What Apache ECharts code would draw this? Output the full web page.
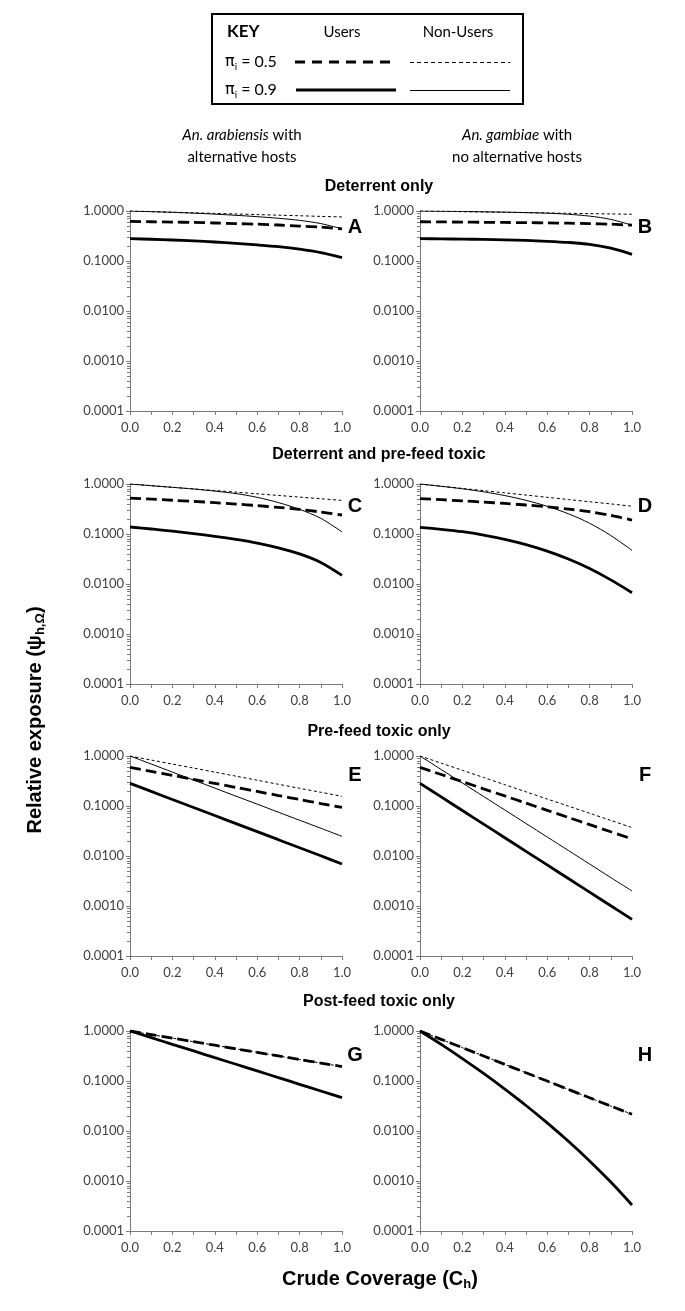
<!DOCTYPE html>
<html><head><meta charset="utf-8">
<script src="https://cdn.jsdelivr.net/npm/echarts@6/dist/echarts.min.js"></script>
<style>html,body{margin:0;padding:0;background:#fff}#c{width:685px;height:1311px}</style>
</head><body><div id="c"></div>
<script>
// ---------- data ----------
const coverage = [0, 0.1, 0.2, 0.3, 0.4, 0.5, 0.6, 0.7, 0.8, 0.9, 1.0];
const xTickValues = [0, 0.2, 0.4, 0.6, 0.8, 1.0];
const xTickLabels = ['0.0', '0.2', '0.4', '0.6', '0.8', '1.0'];
const yTickValues = [0.0001, 0.001, 0.01, 0.1, 1];
const yTickLabels = ['0.0001', '0.0010', '0.0100', '0.1000', '1.0000'];
const yMinorTickValues = [0.0002,0.0003,0.0004,0.0005,0.0006,0.0007,0.0008,0.0009,
  0.002,0.003,0.004,0.005,0.006,0.007,0.008,0.009,
  0.02,0.03,0.04,0.05,0.06,0.07,0.08,0.09,
  0.2,0.3,0.4,0.5,0.6,0.7,0.8,0.9];

const panelLetters = ['A','B','C','D','E','F','G','H'];
const rowTitles = ['Deterrent only', 'Deterrent and pre-feed toxic', 'Pre-feed toxic only', 'Post-feed toxic only'];

// Panel A
const A_users05    = [0.62, 0.61, 0.60, 0.59, 0.575, 0.56, 0.545, 0.525, 0.50, 0.475, 0.44];
const A_nonusers05 = [1.0, 0.973, 0.946, 0.921, 0.896, 0.872, 0.848, 0.825, 0.803, 0.781, 0.76];
const A_users09    = [0.28, 0.272, 0.263, 0.253, 0.24, 0.226, 0.21, 0.193, 0.172, 0.147, 0.117];
const A_nonusers09 = [1.0, 0.97, 0.94, 0.905, 0.865, 0.82, 0.77, 0.715, 0.65, 0.56, 0.44];
// Panel B
const B_users05    = [0.61, 0.605, 0.60, 0.595, 0.59, 0.585, 0.578, 0.57, 0.56, 0.545, 0.52];
const B_nonusers05 = [1.0, 0.985, 0.97, 0.955, 0.94, 0.927, 0.913, 0.899, 0.886, 0.873, 0.86];
const B_users09    = [0.28, 0.277, 0.274, 0.27, 0.265, 0.258, 0.248, 0.235, 0.215, 0.18, 0.136];
const B_nonusers09 = [1.0, 0.99, 0.98, 0.965, 0.95, 0.93, 0.905, 0.86, 0.79, 0.68, 0.52];
// Panel C
const C_users05    = [0.52, 0.497, 0.473, 0.449, 0.423, 0.397, 0.37, 0.34, 0.31, 0.275, 0.24];
const C_nonusers05 = [1.0, 0.927, 0.860, 0.797, 0.740, 0.686, 0.636, 0.590, 0.547, 0.507, 0.47];
const C_users09    = [0.138, 0.126, 0.114, 0.102, 0.09, 0.078, 0.066, 0.053, 0.040, 0.027, 0.0149];
const C_nonusers09 = [1.0, 0.925, 0.857, 0.794, 0.721, 0.643, 0.541, 0.425, 0.311, 0.206, 0.11];
// Panel D
const D_users05    = [0.51, 0.485, 0.46, 0.435, 0.408, 0.38, 0.35, 0.315, 0.28, 0.235, 0.19];
const D_nonusers05 = [1.0, 0.903, 0.815, 0.736, 0.665, 0.600, 0.542, 0.489, 0.442, 0.399, 0.36];
const D_users09    = [0.136, 0.124, 0.111, 0.0953, 0.0783, 0.0615, 0.0456, 0.0316, 0.0204, 0.0121, 0.0067];
const D_nonusers09 = [1.0, 0.899, 0.802, 0.698, 0.587, 0.472, 0.358, 0.254, 0.164, 0.0933, 0.047];
// Panel E
const E_users05    = [0.593, 0.493, 0.410, 0.340, 0.283, 0.235, 0.195, 0.162, 0.135, 0.112, 0.094];
const E_nonusers05 = [1.0, 0.830, 0.690, 0.573, 0.476, 0.395, 0.328, 0.272, 0.226, 0.188, 0.156];
const E_users09    = [0.284, 0.196, 0.135, 0.0934, 0.0644, 0.0445, 0.0307, 0.0212, 0.0146, 0.0101, 0.0069];
const E_nonusers09 = [1.0, 0.691, 0.477, 0.330, 0.228, 0.157, 0.109, 0.0751, 0.0519, 0.0359, 0.0247];
// Panel F
const F_users05    = [0.593, 0.426, 0.307, 0.220, 0.159, 0.114, 0.082, 0.059, 0.0424, 0.0305, 0.022];
const F_nonusers05 = [1.0, 0.719, 0.517, 0.372, 0.267, 0.192, 0.138, 0.0995, 0.0716, 0.0515, 0.037];
const F_users09    = [0.284, 0.152, 0.0812, 0.0434, 0.0232, 0.0124, 0.00663, 0.00354, 0.00189, 0.00101, 0.00054];
const F_nonusers09 = [1.0, 0.537, 0.288, 0.155, 0.0832, 0.0447, 0.024, 0.0129, 0.0069, 0.0037, 0.0020];
// Panel G
const G_users05    = [1.0, 0.849, 0.720, 0.611, 0.519, 0.440, 0.374, 0.317, 0.269, 0.229, 0.194];
const G_nonusers05 = [1.0, 0.849, 0.720, 0.611, 0.519, 0.440, 0.374, 0.317, 0.269, 0.229, 0.194];
const G_users09    = [1.0, 0.736, 0.541, 0.399, 0.293, 0.216, 0.159, 0.117, 0.0859, 0.0632, 0.0465];
const G_nonusers09 = [1.0, 0.736, 0.541, 0.399, 0.293, 0.216, 0.159, 0.117, 0.0859, 0.0632, 0.0465];
// Panel H
const H_users05    = [1.0, 0.681, 0.464, 0.316, 0.215, 0.146, 0.0997, 0.0679, 0.0462, 0.0315, 0.0216];
const H_nonusers05 = [1.0, 0.681, 0.464, 0.316, 0.215, 0.146, 0.0997, 0.0679, 0.0462, 0.0315, 0.0216];
const H_users09    = [1.0, 0.540, 0.281, 0.1416, 0.0689, 0.0324, 0.01452, 0.00622, 0.00252, 0.000951, 0.000331];
const H_nonusers09 = [1.0, 0.540, 0.281, 0.1416, 0.0689, 0.0324, 0.01452, 0.00622, 0.00252, 0.000951, 0.000331];

const panelSeries = [
  [A_users05, A_nonusers05, A_users09, A_nonusers09],
  [B_users05, B_nonusers05, B_users09, B_nonusers09],
  [C_users05, C_nonusers05, C_users09, C_nonusers09],
  [D_users05, D_nonusers05, D_users09, D_nonusers09],
  [E_users05, E_nonusers05, E_users09, E_nonusers09],
  [F_users05, F_nonusers05, F_users09, F_nonusers09],
  [G_users05, G_nonusers05, G_users09, G_nonusers09],
  [H_users05, H_nonusers05, H_users09, H_nonusers09]
];
const seriesNames = ['Users, πi = 0.5', 'Non-Users, πi = 0.5', 'Users, πi = 0.9', 'Non-Users, πi = 0.9'];

// ---------- layout / style ----------
const colLeft = [130, 420];
const plotW = 212;
const rowTop = [211, 484, 756, 1031];
const plotH = 200;
const letterDy = [16, 22, 19, 24];
const titleY = [187, 455, 732, 1002];
const tickFont = 'Lato, "Open Sans", sans-serif';
const lineStyles = [
  {width: 2.8, type: [11, 5], color: '#000'},
  {width: 1, type: [3, 2.5], color: '#000'},
  {width: 2.8, type: 'solid', color: '#000'},
  {width: 1, type: 'solid', color: '#000'}
];

function fmtFrom(values, labels, isLog) {
  return function (v) {
    for (let i = 0; i < values.length; i++) {
      const d = isLog ? Math.abs(Math.log10(values[i]) - Math.log10(v)) : Math.abs(values[i] - v);
      if (d < 1e-6) return labels[i];
    }
    return '';
  };
}

const grid = [], xAxis = [], yAxis = [], series = [];
for (let p = 0; p < 8; p++) {
  const r = Math.floor(p / 2), c = p % 2;
  grid.push({left: colLeft[c], top: rowTop[r], width: plotW, height: plotH});
  xAxis.push({
    type: 'value', gridIndex: p, min: 0, max: 1, interval: 0.2,
    axisLine: {show: true, lineStyle: {color: '#7a7a7a', width: 1}},
    axisTick: {show: true, length: 4, lineStyle: {color: '#7a7a7a'}},
    minorTick: {show: true, splitNumber: 2, length: 4, lineStyle: {color: '#7a7a7a'}},
    splitLine: {show: false},
    axisLabel: {formatter: fmtFrom(xTickValues, xTickLabels, false), fontFamily: tickFont, fontSize: 13, color: '#404040', margin: 10}
  });
  yAxis.push({
    type: 'log', logBase: 10, gridIndex: p, min: 0.0001, max: 1, position: 'left',
    axisLine: {show: true, lineStyle: {color: '#7a7a7a', width: 1}},
    axisTick: {show: true, length: 4, lineStyle: {color: '#7a7a7a'}},
    splitLine: {show: false},
    axisLabel: {customValues: yTickValues, formatter: fmtFrom(yTickValues, yTickLabels, true), fontFamily: tickFont, fontSize: 13, color: '#404040', margin: 6}
  });
  // minor tick overlay axis
  yAxis.push({
    type: 'log', logBase: 10, gridIndex: p, min: 0.0001, max: 1, position: 'left', offset: 0,
    axisLine: {show: false},
    axisTick: {show: true, length: 3, customValues: yMinorTickValues, lineStyle: {color: '#7a7a7a'}},
    splitLine: {show: false},
    axisLabel: {show: false}
  });
  panelSeries[p].forEach((arr, k) => {
    series.push({
      name: seriesNames[k], type: 'line', xAxisIndex: p, yAxisIndex: 2 * p,
      data: coverage.map((x, i) => [x, arr[i]]),
      showSymbol: false, symbol: 'none', smooth: 0.3,
      lineStyle: lineStyles[k], z: 2 + (k % 2 === 0 ? 0 : 1)
    });
  });
}

const graphic = [];
// Key box
graphic.push({type: 'rect', shape: {x: 212, y: 14, width: 311, height: 90}, style: {fill: 'none', stroke: '#000', lineWidth: 2}});
graphic.push({type: 'text', x: 227, y: 32, style: {text: 'KEY', font: 'bold 17px Lato, sans-serif', fill: '#000', verticalAlign: 'middle'}});
graphic.push({type: 'text', x: 342, y: 32, style: {text: 'Users', font: '15px Lato, sans-serif', fill: '#000', align: 'center', verticalAlign: 'middle'}});
graphic.push({type: 'text', x: 458, y: 32, style: {text: 'Non-Users', font: '15px Lato, sans-serif', fill: '#000', align: 'center', verticalAlign: 'middle'}});
['0.5', '0.9'].forEach((v, i) => {
  graphic.push({type: 'text', x: 225, y: 62 + i * 28, style: {
    text: '{p|π}{s|i}{a| = ' + v + '}', verticalAlign: 'middle',
    rich: {p: {font: '16px "DejaVu Sans", sans-serif', fill: '#000', lineHeight: 20},
           a: {font: '16px Lato, sans-serif', fill: '#000', lineHeight: 20},
           s: {font: '10px Lato, sans-serif', fill: '#000', verticalAlign: 'bottom'}}
  }});
});
const keyLines = [
  {x1: 295, x2: 394, y: 62, s: lineStyles[0], dash: [10, 7]},
  {x1: 410, x2: 510, y: 62.5, s: lineStyles[1], dash: [4, 3]},
  {x1: 296, x2: 396, y: 90, s: lineStyles[2], dash: null},
  {x1: 410, x2: 510, y: 90.5, s: lineStyles[3], dash: null}
];
keyLines.forEach(k => graphic.push({type: 'line', shape: {x1: k.x1, y1: k.y, x2: k.x2, y2: k.y},
  style: {stroke: k.s.color, lineWidth: k.s.width, lineDash: k.dash}}));

// Column headers
graphic.push({type: 'text', x: 242, y: 135, style: {text: '{i|An. arabiensis}{n| with}', align: 'center', verticalAlign: 'middle',
  rich: {i: {font: 'italic 15px Lato, sans-serif', fill: '#000'}, n: {font: '15px Lato, sans-serif', fill: '#000'}}}});
graphic.push({type: 'text', x: 242, y: 157, style: {text: 'alternative hosts', font: '15px Lato, sans-serif', fill: '#000', align: 'center', verticalAlign: 'middle'}});
graphic.push({type: 'text', x: 517, y: 135, style: {text: '{i|An. gambiae}{n| with}', align: 'center', verticalAlign: 'middle',
  rich: {i: {font: 'italic 15px Lato, sans-serif', fill: '#000'}, n: {font: '15px Lato, sans-serif', fill: '#000'}}}});
graphic.push({type: 'text', x: 517, y: 157, style: {text: 'no alternative hosts', font: '15px Lato, sans-serif', fill: '#000', align: 'center', verticalAlign: 'middle'}});

// Row titles
rowTitles.forEach((t, r) => graphic.push({type: 'text', x: 379, y: titleY[r], style: {text: t, font: 'bold 16px "Liberation Sans", Arial, sans-serif', fill: '#000', align: 'center', verticalAlign: 'middle'}}));

// Panel letters
panelLetters.forEach((L, p) => {
  const r = Math.floor(p / 2), c = p % 2;
  graphic.push({type: 'text', x: colLeft[c] + plotW + 13, y: rowTop[r] + letterDy[r], style: {text: L, font: 'bold 20px "Liberation Sans", Arial, sans-serif', fill: '#000', align: 'center', verticalAlign: 'middle'}});
});

// Axis titles
graphic.push({type: 'text', x: 35, y: 720, rotation: Math.PI / 2, style: {
  text: '{t|Relative exposure (ψ}{s|h,Ω}{t|)}', align: 'center', verticalAlign: 'middle',
  rich: {t: {font: 'bold 20px "Liberation Sans", Arial, sans-serif', fill: '#000', lineHeight: 24}, s: {font: 'bold 13px "Liberation Sans", Arial, sans-serif', fill: '#000', verticalAlign: 'bottom'}}
}});
graphic.push({type: 'text', x: 380, y: 1279, style: {
  text: '{t|Crude Coverage (C}{s|h}{t|)}', align: 'center', verticalAlign: 'middle',
  rich: {t: {font: 'bold 20px "Liberation Sans", Arial, sans-serif', fill: '#000', lineHeight: 24}, s: {font: 'bold 13px "Liberation Sans", Arial, sans-serif', fill: '#000', verticalAlign: 'bottom'}}
}});

const chart = echarts.init(document.getElementById('c'), null, {renderer: 'canvas'});
chart.setOption({animation: false, backgroundColor: '#fff', grid, xAxis, yAxis, series, graphic});
</script></body></html>
